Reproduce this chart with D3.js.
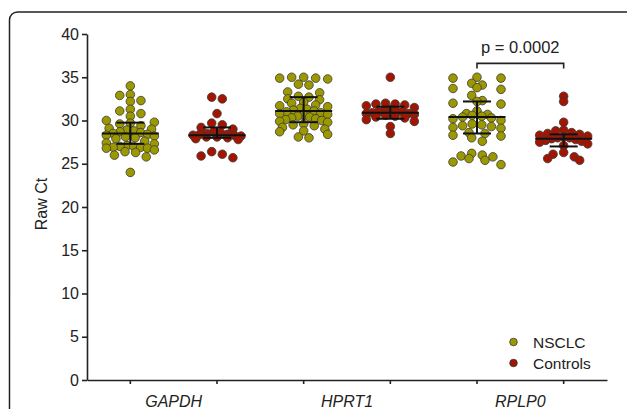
<!DOCTYPE html>
<html>
<head>
<meta charset="utf-8">
<script src="https://cdn.jsdelivr.net/npm/d3@7"></script>
<style>
  html, body { margin: 0; padding: 0; background: #fff; }
  svg { display: block; font-family: "Liberation Sans", Arial, sans-serif; }
</style>
</head>
<body>
<svg id="chart" width="627" height="409"></svg>
<script>
// ---------- data ----------
const categories = ["GAPDH", "HPRT1", "RPLP0"];
const seriesNames = ["NSCLC", "Controls"];
const yTicks = [0, 5, 10, 15, 20, 25, 30, 35, 40];

const gapdhNSCLC = [34.0, 33.0, 32.9, 32.3, 32.2, 31.3, 31.1, 30.8, 30.5, 30.0, 29.8, 29.7, 29.6, 29.4, 29.1, 29.0, 28.9, 28.8, 28.7, 28.6, 28.5, 28.4, 28.3, 28.2, 28.1, 28.0, 27.9, 27.6, 27.4, 27.3, 27.1, 27.0, 27.0, 26.9, 26.9, 26.8, 26.8, 26.6, 26.4, 26.3, 26.0, 25.8, 24.0];
const gapdhControls = [32.7, 32.5, 30.8, 29.7, 29.5, 29.2, 29.0, 28.7, 28.6, 28.5, 28.4, 28.4, 28.3, 28.3, 28.2, 28.1, 28.1, 28.0, 27.9, 27.8, 26.4, 26.1, 25.9, 25.7];
const hprt1NSCLC = [35.0, 35.0, 34.9, 34.9, 34.8, 34.2, 34.1, 33.3, 33.2, 32.8, 32.7, 32.5, 32.4, 32.1, 32.0, 31.8, 31.7, 31.6, 31.4, 31.3, 31.2, 31.1, 31.0, 30.9, 30.8, 30.7, 30.6, 30.5, 30.4, 30.3, 30.2, 30.1, 30.0, 29.9, 29.8, 29.6, 29.5, 29.4, 29.2, 29.0, 28.8, 28.7, 28.4, 28.1, 28.0];
const hprt1Controls = [35.0, 32.0, 31.9, 31.9, 31.8, 31.7, 31.5, 31.3, 31.2, 31.1, 31.0, 31.0, 30.9, 30.8, 30.8, 30.7, 30.6, 30.5, 30.4, 30.3, 30.1, 29.9, 29.3, 28.5];
const rplp0NSCLC = [35.0, 34.9, 34.9, 34.3, 34.1, 33.8, 33.7, 33.6, 32.9, 32.3, 32.2, 32.0, 31.9, 31.1, 30.8, 30.7, 30.6, 30.5, 30.4, 30.3, 30.2, 30.0, 29.6, 29.5, 29.4, 29.3, 29.2, 29.1, 28.6, 28.5, 28.3, 28.2, 28.0, 27.6, 26.2, 26.0, 25.9, 25.8, 25.6, 25.4, 25.2, 24.9];
const rplp0Controls = [32.8, 32.2, 29.8, 28.9, 28.8, 28.6, 28.5, 28.4, 28.3, 28.2, 28.1, 28.0, 28.0, 27.9, 27.8, 27.7, 27.6, 27.5, 27.3, 27.1, 26.3, 26.1, 25.8, 25.6, 25.4];

// centre line and error bar bounds (order: GAPDH N, GAPDH C, HPRT1 N, HPRT1 C, RPLP0 N, RPLP0 C)
const centreValues = [28.5, 28.3, 31.1, 30.9, 30.4, 27.9];
const upperValues  = [29.75, 29.2, 32.7, 31.6, 32.2, 28.4];
const lowerValues  = [27.3, 28.0, 29.8, 30.2, 28.5, 27.0];

const pLabel = "p = 0.0002";
const pBracketY = 36.6, pLegY = 36.0, pTextY = 37.8;

// ---------- build groups ----------
const seriesValues = [gapdhNSCLC, gapdhControls, hprt1NSCLC, hprt1Controls, rplp0NSCLC, rplp0Controls];
const groups = [];
categories.forEach((c, ci) => seriesNames.forEach((s, si) => {
  const i = ci * 2 + si;
  groups.push({ key: c + "|" + s, cat: c, series: s, values: seriesValues[i],
    centre: centreValues[i], upper: upperValues[i], lower: lowerValues[i] });
}));

const colors = { NSCLC: "#9c9800", Controls: "#a31500" };

// ---------- layout ----------
const svg = d3.select("#chart");
const x = d3.scaleBand().domain(groups.map(g => g.key)).range([87, 607]).padding(0);
const y = d3.scaleLinear().domain([0, 40]).range([380, 34]);
const cx = k => x(k) + x.bandwidth() / 2;

// frame
svg.append("rect").attr("x", 9.5).attr("y", 12).attr("width", 700).attr("height", 500)
  .attr("rx", 8).attr("fill", "none").attr("stroke", "#222").attr("stroke-width", 1.5);

// axes
const yAxis = svg.append("g").attr("transform", "translate(87,0)")
  .call(d3.axisLeft(y).tickValues(yTicks).tickSize(5).tickSizeOuter(0).tickPadding(3));
const xAxis = svg.append("g").attr("transform", "translate(0,380)")
  .call(d3.axisBottom(x).tickSize(4).tickSizeOuter(0).tickFormat(""));
[yAxis, xAxis].forEach(a => {
  a.selectAll("path, line").attr("stroke", "#222").attr("stroke-width", 1.6);
});
yAxis.selectAll("text").attr("font-size", 16).attr("fill", "#222")
  .attr("font-family", "'Liberation Sans', Arial, sans-serif");

// category labels
categories.forEach(c => {
  const mid = (cx(c + "|NSCLC") + cx(c + "|Controls")) / 2;
  svg.append("text").attr("x", mid).attr("y", 407).attr("text-anchor", "middle")
    .attr("font-size", 16).attr("font-style", "italic").attr("fill", "#222").text(c);
});

// y label
svg.append("text").attr("transform", "translate(47,204) rotate(-90)")
  .attr("text-anchor", "middle").attr("font-size", 16).attr("fill", "#222").text("Raw Ct");

// scatter layout: rows binned in y; alternate rows wide / narrow, compressed to a max width
const r = 4.3;
const binH = 7.2, maxSpan = 48, wideStep = 32, narrowStep = 2 * r + 2;
function swarm(values) {
  const pts = values.map(v => ({ v, py: y(v) }));
  const bins = d3.groups(pts, p => Math.floor(p.py / binH));
  bins.forEach(([b, row]) => {
    row.sort((a, c) => c.v - a.v);
    const n = row.length;
    const step = (b % 2 === 0) ? wideStep : narrowStep;
    const sp = n > 1 ? Math.min(step, maxSpan / (n - 1)) : 0;
    const slots = d3.range(n).map(i => (i - (n - 1) / 2) * sp)
      .sort((a, c) => Math.abs(a) - Math.abs(c) || a - c);
    row.forEach((p, i) => { p.dx = slots[i]; });
  });
  return pts;
}

groups.forEach(g => {
  const pts = swarm(g.values);
  svg.append("g").selectAll("circle").data(pts).join("circle")
    .attr("cx", d => cx(g.key) + d.dx).attr("cy", d => d.py).attr("r", r)
    .attr("fill", colors[g.series]).attr("stroke", "#3a3a3a").attr("stroke-width", 0.8);
});

// centre lines & error bars
const halfMean = 28.5, halfCap = 14;
groups.forEach(g => {
  const c = cx(g.key);
  const gg = svg.append("g").attr("stroke", "#111").attr("stroke-width", 2);
  gg.append("line").attr("x1", c - halfMean).attr("x2", c + halfMean).attr("y1", y(g.centre)).attr("y2", y(g.centre));
  gg.append("line").attr("x1", c).attr("x2", c).attr("y1", y(g.upper)).attr("y2", y(g.lower));
  [g.upper, g.lower].forEach(v => gg.append("line").attr("x1", c - halfCap).attr("x2", c + halfCap).attr("y1", y(v)).attr("y2", y(v)));
});

// significance bracket
const bx1 = cx("RPLP0|NSCLC"), bx2 = cx("RPLP0|Controls");
svg.append("path")
  .attr("d", `M${bx1},${y(pLegY)}V${y(pBracketY)}H${bx2}V${y(pLegY)}`)
  .attr("fill", "none").attr("stroke", "#222").attr("stroke-width", 1.6);
svg.append("text").attr("x", (bx1 + bx2) / 2).attr("y", y(pTextY)).attr("text-anchor", "middle")
  .attr("font-size", 16.5).attr("fill", "#222").text(pLabel);

// legend
seriesNames.forEach((s, i) => {
  const ly = 342 + i * 21;
  svg.append("circle").attr("cx", 513.5).attr("cy", ly).attr("r", 3.8)
    .attr("fill", colors[s]).attr("stroke", "#3a3a3a").attr("stroke-width", 0.8);
  svg.append("text").attr("x", 533).attr("y", ly + 5.5).attr("font-size", 15.5).attr("fill", "#222").text(s);
});
</script>
</body>
</html>
